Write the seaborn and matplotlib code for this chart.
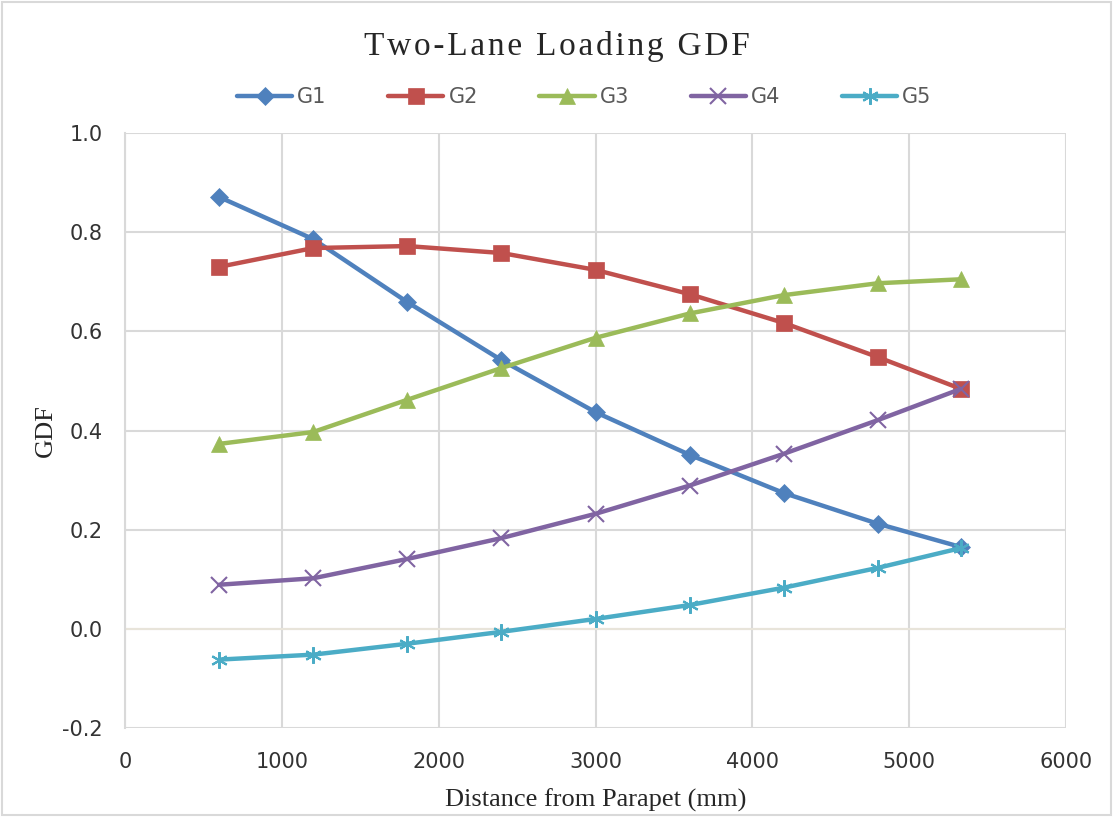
import matplotlib
matplotlib.use("Agg")
import matplotlib.pyplot as plt
import seaborn as sns
import pandas as pd

distance = [600, 1200, 1800, 2400, 3000, 3600, 4200, 4800, 5330]
g1 = [0.871, 0.786, 0.659, 0.542, 0.437, 0.351, 0.274, 0.212, 0.165]
g2 = [0.730, 0.768, 0.772, 0.758, 0.724, 0.675, 0.617, 0.548, 0.484]
g3 = [0.373, 0.397, 0.462, 0.526, 0.587, 0.636, 0.673, 0.697, 0.705]
g4 = [0.089, 0.102, 0.141, 0.183, 0.232, 0.289, 0.353, 0.421, 0.484]
g5 = [-0.062, -0.052, -0.030, -0.006, 0.020, 0.048, 0.083, 0.123, 0.163]
series_names = ["G1", "G2", "G3", "G4", "G5"]
colors = ["#4F81BD", "#C0504D", "#9BBB59", "#8064A2", "#4BACC6"]
markers = ["D", "s", "^", "x", (6, 2, 0)]
msizes = [9, 11, 11, 11, 12]
title = "Two-Lane Loading GDF"

sns.set_theme(style="white")
plt.rcParams["font.family"] = ["DejaVu Sans"]

rows = []
for name, vals in zip(series_names, [g1, g2, g3, g4, g5]):
    for x, y in zip(distance, vals):
        rows.append({"Distance": x, "GDF": y, "Series": name})
df = pd.DataFrame(rows)

fig = plt.figure(figsize=(11.13, 8.17), dpi=100)
ax = fig.add_axes([0.1123, 0.1089, 0.8455, 0.7283])

for name, c, m, ms in zip(series_names, colors, markers, msizes):
    sub = df[df["Series"] == name]
    sns.lineplot(data=sub, x="Distance", y="GDF", ax=ax, color=c, linewidth=3.2,
                 marker=m, markersize=ms, markeredgecolor=c,
                 markeredgewidth=1.5 if name in ("G4", "G5") else 0.5,
                 label=name, zorder=3)

ax.set_xlim(0, 6000)
ax.set_ylim(-0.2, 1.0)
ax.set_xticks(range(0, 6001, 1000))
ax.set_yticks([-0.2, 0.0, 0.2, 0.4, 0.6, 0.8, 1.0])
ax.set_yticklabels(["-0.2", "0.0", "0.2", "0.4", "0.6", "0.8", "1.0"])
ax.grid(True, color="#D9D9D9", linewidth=1.5)
ax.axhline(0, color="#E8E4DA", linewidth=1.5, zorder=1)
for s in ["top", "right", "bottom"]:
    ax.spines[s].set_visible(False)
ax.spines["left"].set_color("#D9D9D9")
ax.spines["left"].set_linewidth(1.5)
ax.tick_params(axis="both", labelsize=15, colors="#333333", length=0)
ax.tick_params(axis="x", pad=17)
ax.tick_params(axis="y", pad=16)

ax.set_xlabel("Distance from Parapet (mm)", fontsize=19, family="Liberation Serif",
              color="#262626", labelpad=12)
ax.set_ylabel("GDF", fontsize=19, family="Liberation Serif", color="#262626", labelpad=4)

fig.text(0.5, 0.943, "\u200a".join(title), ha="center", va="center", fontsize=24,
         family="Liberation Serif", color="#262626")

leg = ax.legend(loc="center", bbox_to_anchor=(0.525, 1 - 97 / 817),
                bbox_transform=fig.transFigure, ncol=5, frameon=False,
                fontsize=15, handlelength=2.65, columnspacing=2.95, handletextpad=0.25)
for t in leg.get_texts():
    t.set_color("#595959")

fig.patches.append(plt.Rectangle((0.002, 0.002), 0.996, 0.996, transform=fig.transFigure,
                                 fill=False, edgecolor="#D9D9D9", linewidth=1.5))
fig.savefig("out.png", dpi=100)
